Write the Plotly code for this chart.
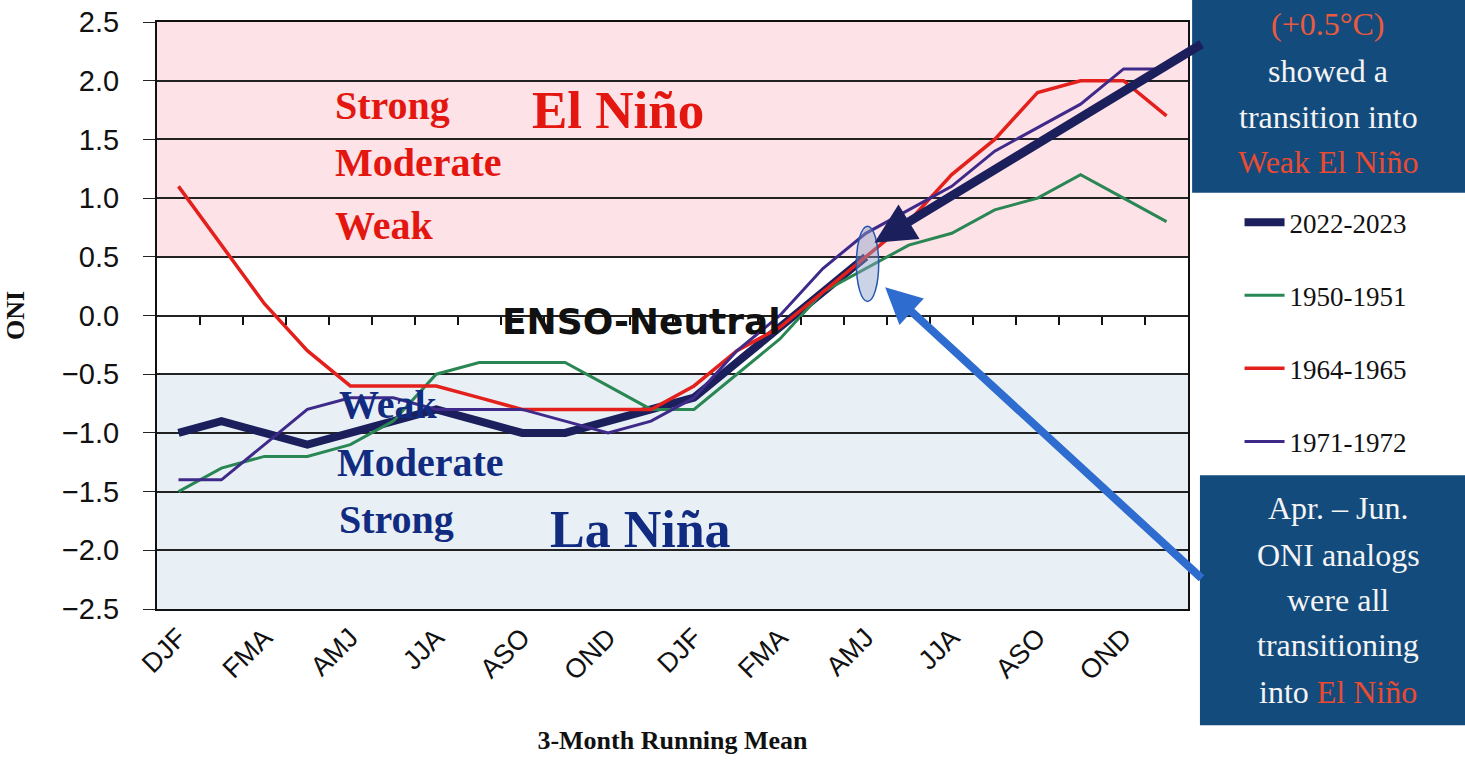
import plotly.graph_objects as go

# 3-month running mean seasons, two consecutive years
seasons = ["DJF", "JFM", "FMA", "MAM", "AMJ", "MJJ", "JJA", "JAS", "ASO", "SON", "OND", "NDJ"] * 2
tick_labels = ["DJF", "FMA", "AMJ", "JJA", "ASO", "OND", "DJF", "FMA", "AMJ", "JJA", "ASO", "OND"]

oni_2022_2023 = [-1.0, -0.9, -1.0, -1.1, -1.0, -0.9, -0.8, -0.9, -1.0, -1.0, -0.9, -0.8,
                 -0.7, -0.4, -0.1, 0.2, 0.5]
oni_1950_1951 = [-1.5, -1.3, -1.2, -1.2, -1.1, -0.9, -0.5, -0.4, -0.4, -0.4, -0.6, -0.8,
                 -0.8, -0.5, -0.2, 0.2, 0.4, 0.6, 0.7, 0.9, 1.0, 1.2, 1.0, 0.8]
oni_1964_1965 = [1.1, 0.6, 0.1, -0.3, -0.6, -0.6, -0.6, -0.7, -0.8, -0.8, -0.8, -0.8,
                 -0.6, -0.3, -0.1, 0.2, 0.5, 0.8, 1.2, 1.5, 1.9, 2.0, 2.0, 1.7]
oni_1971_1972 = [-1.4, -1.4, -1.1, -0.8, -0.7, -0.7, -0.8, -0.8, -0.8, -0.9, -1.0, -0.9,
                 -0.7, -0.3, 0.0, 0.4, 0.7, 0.9, 1.1, 1.4, 1.6, 1.8, 2.1, 2.1]

series = [
    ("2022-2023", oni_2022_2023, "#1b1f5c", 8),
    ("1950-1951", oni_1950_1951, "#2a8653", 3),
    ("1964-1965", oni_1964_1965, "#e3201b", 3.5),
    ("1971-1972", oni_1971_1972, "#3f2a8a", 3),
]

SERIF = "Liberation Serif"
SANS = "Liberation Sans"
RED = "#e3170f"
NAVY = "#112b80"

idx = list(range(len(seasons)))

fig = go.Figure()
for name, vals, col, w in series:
    fig.add_trace(go.Scatter(
        x=idx[:len(vals)], y=vals, mode="lines", name=name,
        line=dict(color=col, width=w), legendgroup=name,
    ))
# carrier for the season-boundary tick marks drawn on the zero line
fig.add_trace(go.Scatter(x=[None], y=[None], xaxis="x2", showlegend=False, hoverinfo="skip"))

# ENSO category bands
fig.add_shape(type="rect", xref="paper", yref="y", x0=0, x1=1, y0=0.5, y1=2.5,
              fillcolor="#fde2e8", line_width=0, layer="below")
fig.add_shape(type="rect", xref="paper", yref="y", x0=0, x1=1, y0=-2.5, y1=-0.5,
              fillcolor="#e8f0f6", line_width=0, layer="below")

# highlight ellipse around AMJ 2023
fig.add_shape(type="circle", xref="x", yref="y", x0=15.78, x1=16.3, y0=0.12, y1=0.76,
              fillcolor="rgba(140,160,200,0.45)", line=dict(color="#2456b0", width=1.5))

# in-plot labels
def txt(text, xp, yv, size, color, family=SERIF):
    fig.add_annotation(text=text, x=xp, y=yv, xref="paper", yref="y", xanchor="left",
                       yanchor="middle", showarrow=False,
                       font=dict(family=family, size=size, color=color))

txt("<b>Strong</b>", 0.171, 1.79, 40, RED)
txt("<b>Moderate</b>", 0.171, 1.30, 40, RED)
txt("<b>Weak</b>", 0.171, 0.77, 40, RED)
txt("<b>El Niño</b>", 0.362, 1.75, 53, RED)
txt("<b>ENSO-Neutral</b>", 0.333, -0.05, 36, "#111111", family="DejaVu Sans")
txt("<b>Weak</b>", 0.175, -0.76, 40, NAVY)
txt("<b>Moderate</b>", 0.173, -1.25, 40, NAVY)
txt("<b>Strong</b>", 0.175, -1.74, 40, NAVY)
txt("<b>La Niña</b>", 0.379, -1.82, 52, NAVY)

# arrows pointing at AMJ 2023
fig.add_annotation(x=16.2, y=0.62, ax=23.85, ay=2.32, xref="x", yref="y", axref="x", ayref="y",
                   showarrow=True, arrowhead=2, arrowsize=0.9, arrowwidth=9,
                   arrowcolor="#1b1f5c", text="")
fig.add_annotation(x=16.45, y=0.24, ax=23.85, ay=-2.25, xref="x", yref="y", axref="x", ayref="y",
                   showarrow=True, arrowhead=2, arrowsize=0.9, arrowwidth=8,
                   arrowcolor="#2f6cd0", text="")

# right-hand text boxes
BOX = "#134b7d"
fig.add_shape(type="rect", xref="paper", yref="paper", x0=1.004, x1=1.27, y0=0.709, y1=1.04,
              fillcolor=BOX, line_width=0)
fig.add_shape(type="rect", xref="paper", yref="paper", x0=1.0116, x1=1.27, y0=-0.198, y1=0.228,
              fillcolor=BOX, line_width=0)

def box_line(text, xp, yp, color="#f4f4f4"):
    fig.add_annotation(text=text, x=xp, y=yp, xref="paper", yref="paper", xanchor="center",
                       yanchor="middle", showarrow=False,
                       font=dict(family=SERIF, size=32, color=color))

box_line("(+0.5°C)", 1.136, 0.996, color="#ea5a3c")
box_line("showed a", 1.136, 0.916)
box_line("transition into", 1.136, 0.838)
box_line("Weak El Niño", 1.136, 0.761, color="#ea4a30")
box_line("Apr. – Jun.", 1.1455, 0.172)
box_line("ONI analogs", 1.1455, 0.092)
box_line("were all", 1.1455, 0.015)
box_line("transitioning", 1.1455, -0.061)
box_line("into <span style='color:#ea4a30'>El Niño</span>", 1.1455, -0.141)

fig.update_layout(
    width=1465, height=767,
    margin=dict(l=157, r=277, t=22, b=158, autoexpand=False),
    paper_bgcolor="white", plot_bgcolor="white",
    showlegend=True,
    legend=dict(x=1.05, y=0.70, xanchor="left", yanchor="top",
                font=dict(family=SERIF, size=27, color="#111111"),
                tracegroupgap=35, bgcolor="rgba(0,0,0,0)", itemwidth=40),
    xaxis=dict(range=[-0.5, 23.5], tickmode="array", tickvals=idx[::2], ticktext=tick_labels,
               tickangle=-45, showgrid=False, zeroline=False, ticks="", automargin=False,
               showline=True, linecolor="#111111", linewidth=2, mirror=True,
               tickfont=dict(family=SANS, size=27, color="#111111"),
               title=dict(text="<b>3-Month Running Mean</b>", standoff=46,
                          font=dict(family=SERIF, size=26, color="#111111"))),
    xaxis2=dict(overlaying="x", anchor="free", position=0.5, side="bottom",
                range=[-0.5, 23.5], tickmode="array", tickvals=[i + 0.5 for i in idx[:-1]],
                ticks="outside", ticklen=8, tickwidth=1.5, tickcolor="#111111",
                showticklabels=False, showgrid=False, showline=False, zeroline=False),
    yaxis=dict(range=[-2.5, 2.5], dtick=0.5, tickformat=".1f", automargin=False,
               ticklabeloverflow="allow",
               showgrid=True, gridcolor="#222222", gridwidth=1.5,
               zeroline=True, zerolinecolor="#222222", zerolinewidth=1.5,
               showline=True, linecolor="#111111", linewidth=2, mirror=True,
               ticks="outside", ticklen=12, tickcolor="#222222", ticklabelstandoff=18,
               tickfont=dict(family=SANS, size=29, color="#111111"),
               title=dict(text="<b>ONI</b>", standoff=30,
                          font=dict(family=SERIF, size=26, color="#111111"))),
)

# drop the page's default body margin so the figure fills the window exactly
fig.write_html("out.html", config={"displayModeBar": False},
               post_script="document.body.style.margin='0px';")
